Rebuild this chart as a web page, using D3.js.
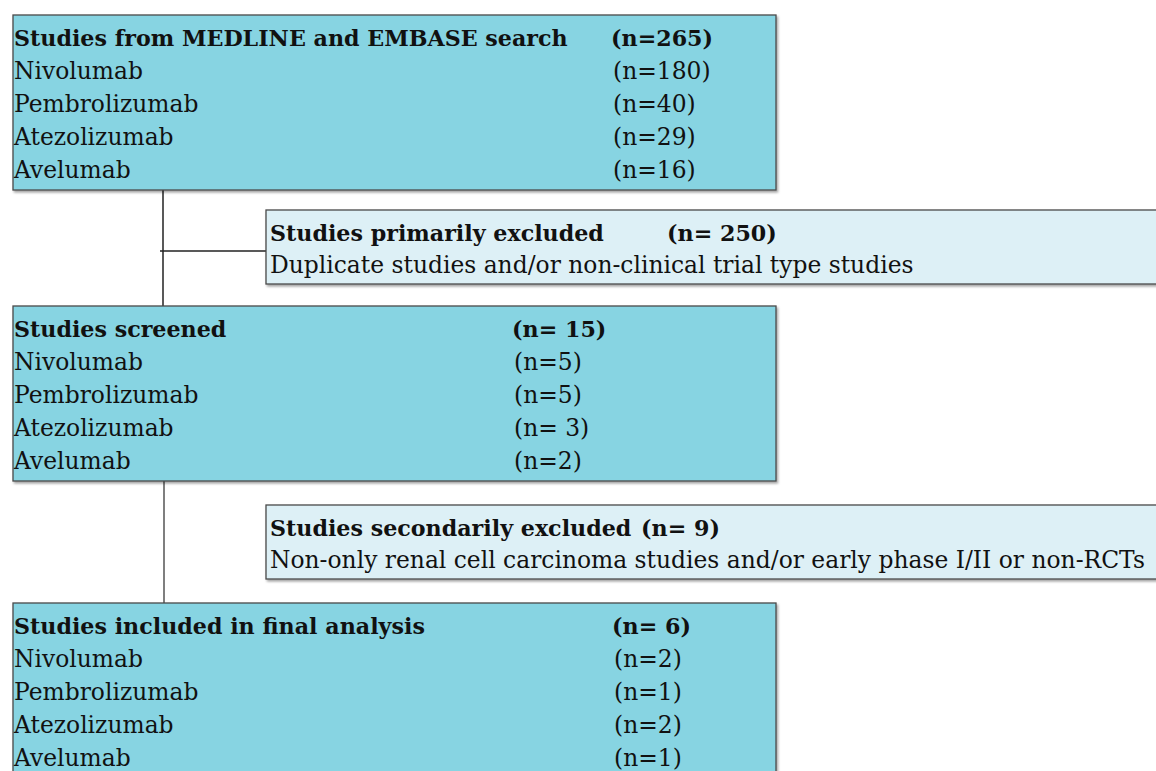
<!DOCTYPE html>
<html>
<head>
<meta charset="utf-8">
<script src="https://cdn.jsdelivr.net/npm/d3@7"></script>
<style>
  html, body { margin: 0; padding: 0; background: #fff; }
  svg { display: block; }
  text { font-family: "DejaVu Serif", "Liberation Serif", serif; fill: #111; }
</style>
</head>
<body>
<svg id="chart" width="1156" height="771"></svg>
<script>
// ── Data ───────────────────────────────────────────
const drugs = ['Nivolumab', 'Pembrolizumab', 'Atezolizumab', 'Avelumab'];

const searchTitle  = 'Studies from MEDLINE and EMBASE search';
const searchTotal  = '(n=265)';
const searchCounts = ['(n=180)', '(n=40)', '(n=29)', '(n=16)'];

const excl1Title = 'Studies primarily excluded';
const excl1Total = '(n= 250)';
const excl1Note  = 'Duplicate studies and/or non-clinical trial type studies';

const screenTitle  = 'Studies screened';
const screenTotal  = '(n= 15)';
const screenCounts = ['(n=5)', '(n=5)', '(n= 3)', '(n=2)'];

const excl2Title = 'Studies secondarily excluded';
const excl2Total = '(n= 9)';
const excl2Note  = 'Non-only renal cell carcinoma studies and/or early phase I/II or non-RCTs';

const finalTitle  = 'Studies included in final analysis';
const finalTotal  = '(n= 6)';
const finalCounts = ['(n=2)', '(n=1)', '(n=2)', '(n=1)'];

// ── Layout ─────────────────────────────────────────
const LINE = 33, FS = 23.4, FS_BOLD = 22.2;
const MAIN_FILL = '#87d4e2', SIDE_FILL = '#ddf0f6', STROKE = '#4a4a4a';

const svg = d3.select('#chart');
const defs = svg.append('defs');
const shadow = defs.append('filter').attr('id', 'shadow')
  .attr('x', '-5%').attr('y', '-5%').attr('width', '110%').attr('height', '120%');
shadow.append('feDropShadow')
  .attr('dx', 1.5).attr('dy', 2).attr('stdDeviation', 1.2)
  .attr('flood-color', '#000').attr('flood-opacity', 0.35);

function box(x, y, w, h, fill) {
  svg.append('rect')
    .attr('x', x).attr('y', y).attr('width', w).attr('height', h)
    .attr('fill', fill).attr('stroke', STROKE).attr('stroke-width', 1.3)
    .attr('filter', 'url(#shadow)');
}

function label(x, y, str, bold) {
  return svg.append('text')
    .attr('x', x).attr('y', y)
    .attr('font-size', bold ? FS_BOLD : FS)
    .attr('font-weight', bold ? 'bold' : 'normal')
    .text(str);
}

// main box: title row + one row per drug
function mainBox(top, title, total, counts, nx) {
  const rows = d3.scaleLinear().domain([0, 1]).range([top + 31, top + 31 + LINE]);
  box(13, top, 763, 175, MAIN_FILL);
  label(14, rows(0), title, true);
  label(nx, rows(0), total, true);
  drugs.forEach((d, i) => {
    label(14, rows(i + 1), d, false);
    label(nx + 2, rows(i + 1), counts[i], false);
  });
}

function sideBox(top, title, total, note, nx) {
  box(266, top, 900, 74, SIDE_FILL);
  label(270, top + 31, title, true);
  label(nx, top + 31, total, true);
  label(270, top + 63, note, false);
}

// connectors
const conn = svg.append('g').attr('stroke', '#222').attr('stroke-width', 1.5);
conn.append('line').attr('x1', 163).attr('x2', 163).attr('y1', 190).attr('y2', 306);
conn.append('line').attr('x1', 160).attr('x2', 266).attr('y1', 251).attr('y2', 251);
conn.append('line').attr('x1', 164).attr('x2', 164).attr('y1', 481).attr('y2', 603)
  .attr('stroke', '#555');

mainBox(15, searchTitle, searchTotal, searchCounts, 611);
sideBox(210, excl1Title, excl1Total, excl1Note, 667);
mainBox(306, screenTitle, screenTotal, screenCounts, 512);
sideBox(505, excl2Title, excl2Total, excl2Note, 641);
mainBox(603, finalTitle, finalTotal, finalCounts, 612);
</script>
</body>
</html>
